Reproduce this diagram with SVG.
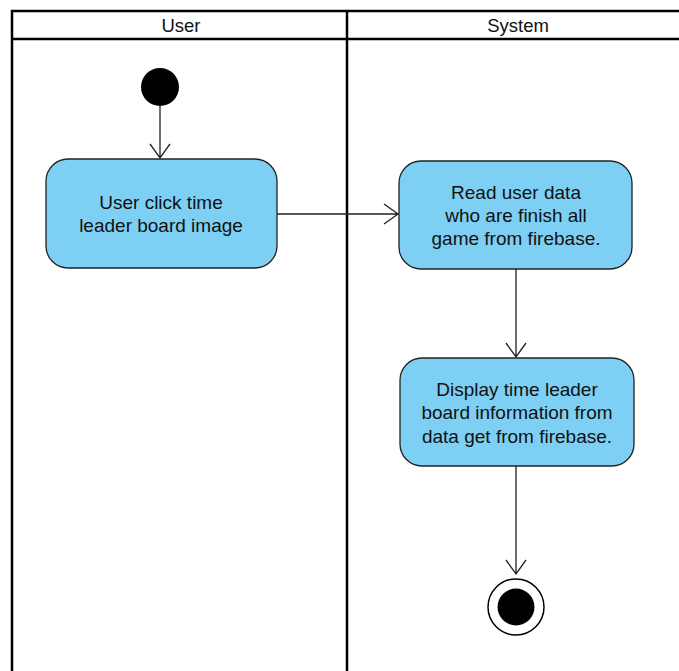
<svg xmlns="http://www.w3.org/2000/svg" width="679" height="671" viewBox="0 0 679 671">
<style>
.lane{fill:none;stroke:#000;stroke-width:2.5}
.act{fill:#7dd0f3;stroke:#222;stroke-width:1.3}
.t{font-family:"Liberation Sans",Arial,sans-serif;font-size:19px;fill:#111;text-anchor:middle}
.h{font-family:"Liberation Sans",Arial,sans-serif;font-size:18.5px;fill:#111;text-anchor:middle}
.e{fill:none;stroke:#222;stroke-width:1.3}
</style>
<rect width="679" height="671" fill="#fff"/>
<g id="lanes">
<path class="lane" d="M12 680 V11 H690 M12 39 H690 M347 11 V680"/>
<text class="h" x="181" y="32">User</text>
<text class="h" x="518" y="32">System</text>
</g>
<g id="start"><circle cx="160" cy="87" r="19" fill="#000"/></g>
<g id="a1">
<rect class="act" x="46" y="159" width="231" height="109" rx="22"/>
<text class="t" x="161" y="209">User click time</text>
<text class="t" x="161" y="232">leader board image</text>
</g>
<g id="a2">
<rect class="act" x="399" y="161" width="233" height="108" rx="22"/>
<text class="t" x="516" y="199">Read user data</text>
<text class="t" x="516" y="222">who are finish all</text>
<text class="t" x="516" y="245">game from firebase.</text>
</g>
<g id="a3">
<rect class="act" x="400" y="358" width="234" height="108" rx="22"/>
<text class="t" x="517" y="396">Display time leader</text>
<text class="t" x="517" y="419">board information from</text>
<text class="t" x="517" y="443">data get from firebase.</text>
</g>
<g id="end">
<circle cx="516" cy="607" r="28" fill="#fff" stroke="#000" stroke-width="1.5"/>
<circle cx="516" cy="607" r="18.5" fill="#000"/>
</g>
<g id="connectors">
<path class="e" d="M160 106 V158 M150 144 L160 158 L170 144"/>
<path class="e" d="M277 214 H398 M384 204 L398 214 L384 224"/>
<path class="e" d="M516 269 V357 M506 343 L516 357 L526 343"/>
<path class="e" d="M516 466 V574 M506 560 L516 574 L526 560"/>
</g>
</svg>
